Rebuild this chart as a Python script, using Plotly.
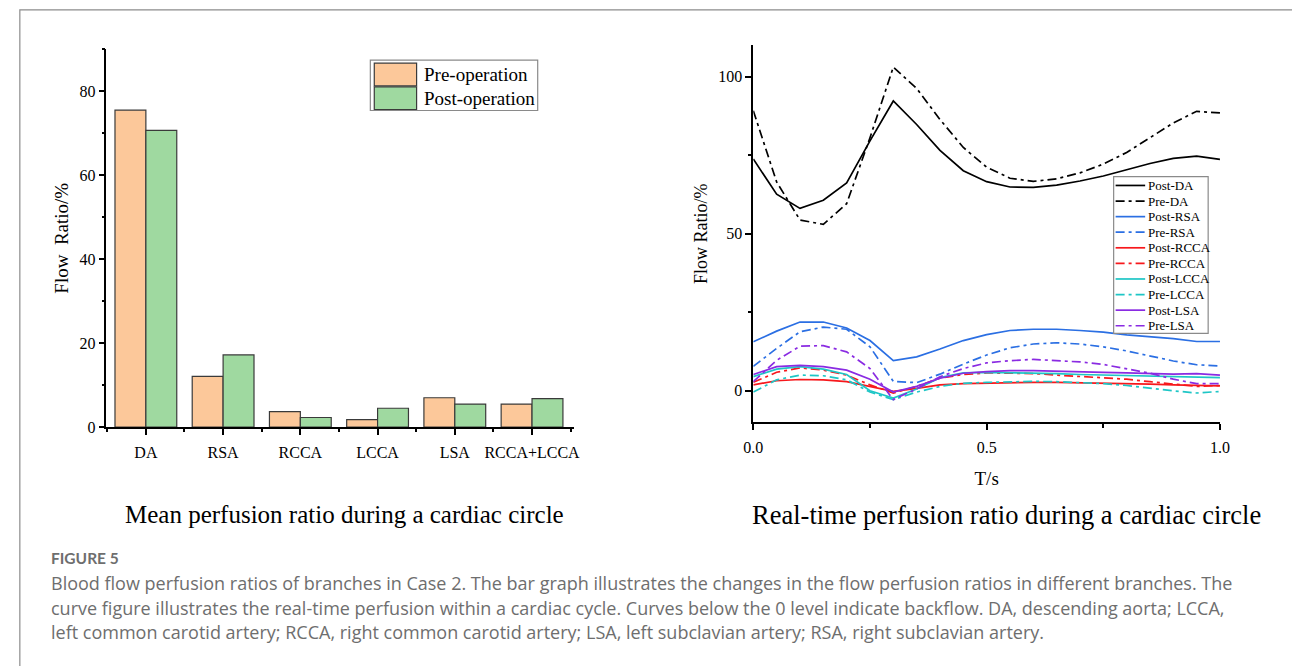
import plotly.graph_objects as go

W, H = 1292, 666

# ---------------- data ----------------
categories = ["DA", "RSA", "RCCA", "LCCA", "LSA", "RCCA+LCCA"]
pre_operation = [75.5, 12.1, 3.7, 1.8, 7.0, 5.5]
post_operation = [70.7, 17.2, 2.3, 4.5, 5.5, 6.8]

t_s = [0.0, 0.05, 0.1, 0.15, 0.2, 0.25, 0.3, 0.35, 0.4, 0.45, 0.5,
       0.55, 0.6, 0.65, 0.7, 0.75, 0.8, 0.85, 0.9, 0.95, 1.0]
post_da = [73.8, 62.6, 58.1, 60.7, 66.2, 79.6, 92.3, 84.8, 76.6, 70.1, 66.6,
           64.9, 64.8, 65.5, 66.8, 68.4, 70.4, 72.4, 74.0, 74.7, 73.7]
pre_da = [89.2, 66.5, 54.4, 53.0, 59.6, 80.6, 103.1, 96.3, 86.4, 77.5, 71.2,
          67.7, 66.7, 67.5, 69.4, 72.2, 75.9, 80.6, 85.3, 89.0, 88.5]
post_rsa = [15.6, 19.0, 21.9, 21.9, 20.0, 16.0, 9.6, 10.8, 13.3, 16.0, 17.9,
            19.2, 19.6, 19.6, 19.2, 18.7, 17.8, 17.2, 16.6, 15.7, 15.7]
pre_rsa = [7.8, 13.5, 18.8, 20.3, 19.6, 14.0, 3.0, 2.6, 5.3, 8.5, 11.4,
           13.7, 14.9, 15.3, 14.9, 14.0, 12.7, 11.2, 9.5, 8.3, 7.9]
post_rcca = [1.9, 3.2, 3.6, 3.5, 2.9, 1.4, -0.2, 0.8, 1.9, 2.3, 2.5,
             2.7, 2.7, 2.7, 2.6, 2.5, 2.3, 2.1, 1.9, 1.7, 1.6]
pre_rcca = [2.7, 5.9, 7.3, 6.6, 5.0, 1.9, -0.7, 1.4, 4.0, 5.2, 5.7,
            5.6, 5.5, 5.0, 4.6, 4.2, 3.7, 2.9, 2.1, 1.4, 1.7]
post_lcca = [4.5, 6.9, 7.7, 6.9, 5.2, 0.0, -2.3, 0.6, 4.2, 5.7, 5.9,
             5.8, 5.7, 5.5, 5.2, 5.0, 4.8, 4.6, 4.4, 4.3, 4.2]
pre_lcca = [-0.4, 3.5, 5.0, 4.8, 3.5, -0.4, -2.8, -0.4, 1.4, 2.4, 2.7,
            2.9, 3.0, 2.9, 2.7, 2.3, 1.7, 0.8, 0.0, -0.7, -0.2]
post_lsa = [5.2, 7.7, 8.1, 7.7, 6.6, 3.7, -0.4, 1.4, 4.0, 5.6, 6.1,
            6.4, 6.4, 6.3, 6.1, 5.9, 5.7, 5.5, 5.3, 5.5, 5.0]
pre_lsa = [2.9, 9.7, 14.2, 14.4, 12.4, 7.1, -2.8, 0.6, 4.5, 7.1, 8.9,
           9.6, 10.0, 9.7, 9.2, 8.4, 7.1, 5.6, 3.7, 2.3, 2.3]

bar_names = ["Pre-operation", "Post-operation"]
x_ticks_right = [0.0, 0.5, 1.0]
x_ticklabels_right = ["0.0", "0.5", "1.0"]

left_subtitle = "Mean perfusion ratio during a cardiac circle"
right_subtitle = "Real-time perfusion ratio during a cardiac circle"
fig_label = "FIGURE 5"
caption_lines = [
    "Blood flow perfusion ratios of branches in Case 2. The bar graph illustrates the changes in the flow perfusion ratios in different branches. The",
    "curve figure illustrates the real-time perfusion within a cardiac cycle. Curves below the 0 level indicate backflow. DA, descending aorta; LCCA,",
    "left common carotid artery; RCCA, right common carotid artery; LSA, left subclavian artery; RSA, right subclavian artery.",
]

# ---------------- styles ----------------
SERIF = "Liberation Serif, Times New Roman, serif"
SANS = "Open Sans, Lato, sans-serif"
PRE_COLOR = "#FCC89A"
POST_COLOR = "#9FD9A0"
BLACK = "#000000"
BLUE = "#2B6FE3"
RED = "#F7181C"
CYAN = "#1EC6C6"
PURPLE = "#8A2BE2"
DASHDOT = "9px,4px,3px,4px"
CAPTION_COLOR = "#6e6e6e"

series = [
    ("Post-DA", post_da, BLACK, "solid"),
    ("Pre-DA", pre_da, BLACK, DASHDOT),
    ("Post-RSA", post_rsa, BLUE, "solid"),
    ("Pre-RSA", pre_rsa, BLUE, DASHDOT),
    ("Post-RCCA", post_rcca, RED, "solid"),
    ("Pre-RCCA", pre_rcca, RED, DASHDOT),
    ("Post-LCCA", post_lcca, CYAN, "solid"),
    ("Pre-LCCA", pre_lcca, CYAN, DASHDOT),
    ("Post-LSA", post_lsa, PURPLE, "solid"),
    ("Pre-LSA", pre_lsa, PURPLE, DASHDOT),
]


def px(xp):
    return xp / W


def py(yp):
    return 1 - yp / H


fig = go.Figure()

cat_idx = list(range(len(categories)))
for name, vals, col in [(bar_names[0], pre_operation, PRE_COLOR),
                        (bar_names[1], post_operation, POST_COLOR)]:
    fig.add_trace(go.Bar(
        x=cat_idx, y=vals, name=name, xaxis="x", yaxis="y",
        marker=dict(color=col, line=dict(color="#3a3a3a", width=1.2)),
        showlegend=False,
    ))

for name, vals, col, dash in series:
    fig.add_trace(go.Scatter(
        x=t_s, y=vals, name=name, mode="lines", xaxis="x2", yaxis="y2",
        line=dict(color=col, width=1.7, dash=dash),
        showlegend=False,
    ))

axis_common = dict(
    showline=True, linecolor=BLACK, linewidth=1.8, showgrid=False, zeroline=False,
    ticks="outside", ticklen=6, tickwidth=1.5, tickcolor=BLACK,
    tickfont=dict(family=SERIF, size=16, color=BLACK),
)

fig.update_layout(
    width=W, height=H, margin=dict(l=0, r=0, t=0, b=0),
    paper_bgcolor="white", plot_bgcolor="white",
    barmode="group", bargap=0.2, bargroupgap=0,
    xaxis=dict(
        domain=[px(98), px(573)], range=[-0.51, 5.545], anchor="y",
        tickmode="array", tickvals=cat_idx, ticktext=categories,
        ticklabelstandoff=4,
        minor=dict(tickmode="linear", tick0=-0.5, dtick=1, ticks="outside",
                   ticklen=3, tickwidth=1.5, tickcolor=BLACK),
        **axis_common,
    ),
    yaxis=dict(
        domain=[py(433), py(50)], range=[0, 90], anchor="x",
        dtick=20, tick0=0,
        minor=dict(dtick=10, ticks="outside", ticklen=3, tickwidth=1.5, tickcolor=BLACK),
        title=dict(text="Flow\u00a0 Ratio/%", font=dict(family=SERIF, size=19, color=BLACK), standoff=6),
        **axis_common,
    ),
    xaxis2=dict(
        domain=[px(755), px(1229)], range=[0, 1], anchor="y2",
        tickmode="array", tickvals=x_ticks_right, ticktext=x_ticklabels_right,
        ticklabelstandoff=4,
        minor=dict(tickmode="linear", tick0=0, dtick=0.25, ticks="outside",
                   ticklen=3.5, tickwidth=1.5, tickcolor=BLACK),
        title=dict(text="T/s", font=dict(family=SERIF, size=19, color=BLACK), standoff=16),
        **axis_common,
    ),
    yaxis2=dict(
        domain=[py(428), py(46)], range=[-10, 110], anchor="x2",
        dtick=50, tick0=0,
        minor=dict(dtick=25, ticks="outside", ticklen=3.5, tickwidth=1.5, tickcolor=BLACK),
        title=dict(text="Flow Ratio/%", font=dict(family=SERIF, size=18, color=BLACK), standoff=6),
        **axis_common,
    ),
)

shapes = []
annotations = []

# outer frame (top & left visible)
shapes.append(dict(type="rect", xref="paper", yref="paper",
                   x0=px(10), x1=1.02, y0=-0.02, y1=py(10),
                   line=dict(color="#8c8c8c", width=1.2), fillcolor="rgba(0,0,0,0)", layer="below"))

# ---- left legend (built from bar series) ----
shapes.append(dict(type="rect", xref="paper", yref="paper",
                   x0=px(366), x1=px(536), y0=py(112), y1=py(61),
                   line=dict(color="#8a8a8a", width=1.2), fillcolor="white"))
for i, (name, col) in enumerate(zip(bar_names, [PRE_COLOR, POST_COLOR])):
    top = 64 + i * 24
    shapes.append(dict(type="rect", xref="paper", yref="paper",
                       x0=px(370), x1=px(413), y0=py(top + 23), y1=py(top),
                       line=dict(color="#3a3a3a", width=1.2), fillcolor=col))
    annotations.append(dict(text=name, xref="paper", yref="paper",
                            x=px(418), y=py(top + 11.5), xanchor="left", yanchor="middle",
                            showarrow=False, font=dict(family=SERIF, size=19, color=BLACK)))

# ---- right legend (built from line series) ----
shapes.append(dict(type="rect", xref="paper", yref="paper",
                   x0=px(1121), x1=px(1217), y0=py(338), y1=py(179),
                   line=dict(color="#8a8a8a", width=1.2), fillcolor="white"))
for i, (name, vals, col, dash) in enumerate(series):
    yc = 188 + i * 15.8
    shapes.append(dict(type="line", xref="paper", yref="paper",
                       x0=px(1123), x1=px(1153), y0=py(yc), y1=py(yc),
                       line=dict(color=col, width=1.7, dash=dash)))
    annotations.append(dict(text=name, xref="paper", yref="paper",
                            x=px(1154), y=py(yc), xanchor="left", yanchor="middle",
                            showarrow=False, font=dict(family=SERIF, size=13, color=BLACK)))

# ---- subtitles ----
annotations.append(dict(text=left_subtitle, xref="paper", yref="paper",
                        x=px(340), y=py(522), xanchor="center", yanchor="middle",
                        showarrow=False, font=dict(family=SERIF, size=25, color=BLACK)))
annotations.append(dict(text=right_subtitle, xref="paper", yref="paper",
                        x=px(1012), y=py(522), xanchor="center", yanchor="middle",
                        showarrow=False, font=dict(family=SERIF, size=26.5, color=BLACK)))

# ---- caption ----
annotations.append(dict(text="<b>" + fig_label + "</b>", xref="paper", yref="paper",
                        x=px(40), y=py(566), xanchor="left", yanchor="middle",
                        showarrow=False, font=dict(family="Lato, sans-serif", size=15.5, color=CAPTION_COLOR)))
for i, line in enumerate(caption_lines):
    annotations.append(dict(text=line, xref="paper", yref="paper",
                            x=px(40), y=py(591 + i * 25), xanchor="left", yanchor="middle",
                            showarrow=False, font=dict(family=SANS, size=18, color=CAPTION_COLOR)))

fig.update_layout(shapes=shapes, annotations=annotations)

fig.write_html("out.html")
